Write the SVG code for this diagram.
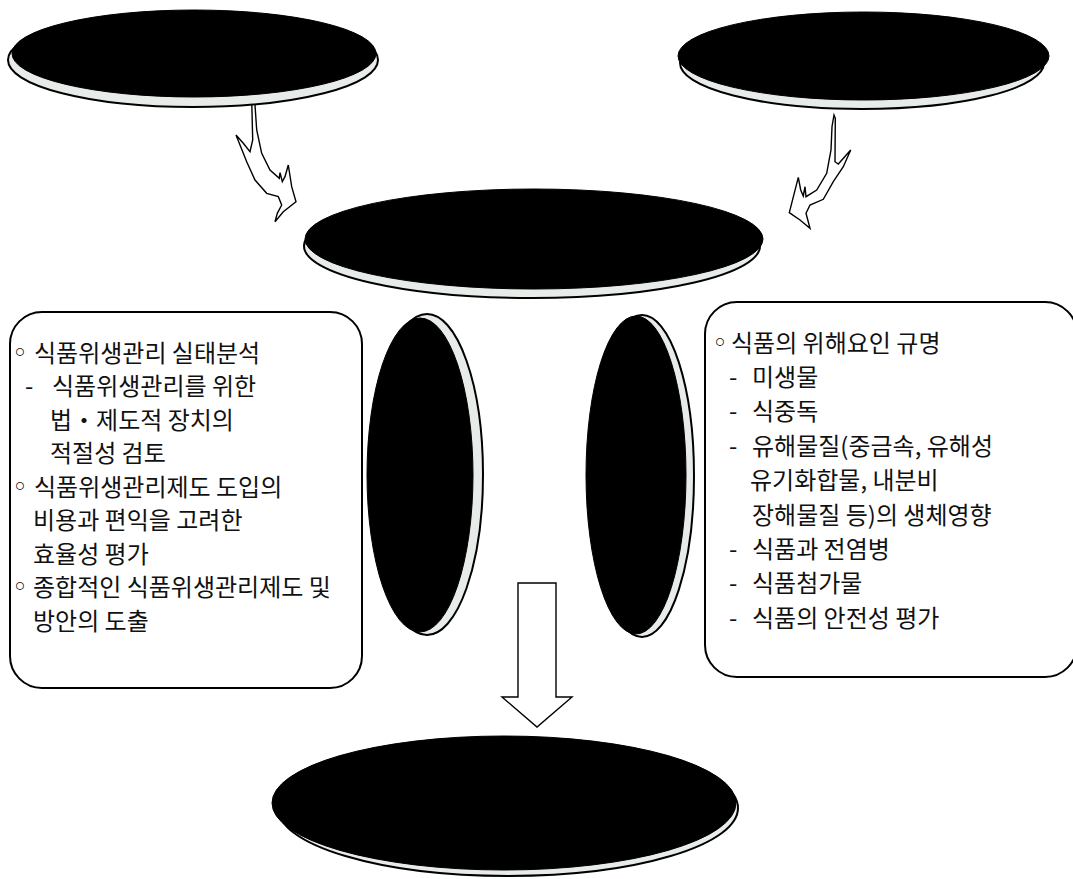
<svg xmlns="http://www.w3.org/2000/svg" width="1073" height="879" viewBox="0 0 1073 879">
<style>
.bg{fill:#ffffff}
.shadow{fill:#e8ece9;stroke:#000;stroke-width:2}
.blk{fill:#000;stroke:#000;stroke-width:1}
.box{fill:#fff;stroke:#000;stroke-width:2}
.arrow{fill:#fff;stroke:#000;stroke-width:1.4;stroke-linejoin:miter}
.t{font-family:"Noto Sans CJK KR","Noto Sans",sans-serif;font-size:24px;fill:#111}
.b{font-family:"DejaVu Sans",sans-serif;font-size:27px;fill:#111}
</style>
<rect class="bg" x="0" y="0" width="1073" height="879"/>

<g id="connectors">
  <polygon class="arrow" points="251.7,100 255,105 256.7,130 261.7,153.3 270,170 279.3,178.3 280,172.7 282.3,181.7 285,176.7 288.3,165 291.7,186.7 296,201.7 283.3,211.7 275,221.7 277.3,213.3 281.7,205 278.3,196.7 266.7,193.3 255,180 246.7,161.7 236,135 243.3,143.3 250,151.7 252.7,140"/>
  <polygon class="arrow" points="834,115 835.3,118.3 835,161.7 838.3,164 850.7,150 843.3,166.7 833.3,181.7 823.3,199.3 810,205 806,213.3 810,228.3 800,220 789.3,212.7 798.3,177.3 800.7,190 803.3,196 805,186.7 806,196.7 816.7,190 826.7,173.3 831,150 832,126.7"/>
  <polygon class="arrow" points="518,583 556,583 556,697 572,697 537,727 502,697 518,697"/>
</g>

<g id="node-top-left">
  <ellipse class="shadow" cx="193" cy="60" rx="185" ry="47"/>
  <ellipse class="blk" cx="194" cy="53.5" rx="182" ry="43.5"/>
</g>

<g id="node-top-right">
  <ellipse class="shadow" cx="862" cy="63" rx="182" ry="46"/>
  <ellipse class="blk" cx="863.5" cy="56" rx="185.5" ry="44"/>
</g>

<g id="node-center">
  <ellipse class="shadow" cx="532" cy="246" rx="228" ry="52"/>
  <ellipse class="blk" cx="534" cy="239" rx="229" ry="50"/>
</g>

<g id="node-left-oval">
  <ellipse class="shadow" cx="427" cy="474.5" rx="56" ry="160.5"/>
  <ellipse class="blk" cx="420" cy="475" rx="53" ry="157"/>
</g>

<g id="node-right-oval">
  <ellipse class="shadow" cx="642" cy="476" rx="52" ry="161"/>
  <ellipse class="blk" cx="636" cy="475" rx="50" ry="159"/>
</g>

<g id="node-bottom">
  <ellipse class="shadow" cx="508" cy="808" rx="230" ry="68"/>
  <ellipse class="blk" cx="504" cy="803" rx="232" ry="67"/>
</g>

<g id="node-left-box">
  <rect class="box" x="10" y="312" width="352" height="376" rx="32" ry="32"/>
  <text class="t" y="361.5"><tspan class="b" x="12">◦</tspan><tspan x="34">식품위생관리 실태분석</tspan></text>
  <text class="t" y="395"><tspan x="25">-</tspan><tspan x="52">식품위생관리를 위한</tspan></text>
  <text class="t" x="50" y="428.5">법・제도적 장치의</text>
  <text class="t" x="50" y="462">적절성 검토</text>
  <text class="t" y="495.5"><tspan class="b" x="12">◦</tspan><tspan x="34">식품위생관리제도 도입의</tspan></text>
  <text class="t" x="33" y="529">비용과 편익을 고려한</text>
  <text class="t" x="33" y="562.5">효율성 평가</text>
  <text class="t" y="596"><tspan class="b" x="12">◦</tspan><tspan x="33">종합적인 식품위생관리제도 및</tspan></text>
  <text class="t" x="33" y="629.5">방안의 도출</text>
</g>

<g id="node-right-box">
  <rect class="box" x="705" y="302" width="372" height="375" rx="32" ry="32"/>
  <text class="t" y="351.5"><tspan class="b" x="712">◦</tspan><tspan x="731">식품의 위해요인 규명</tspan></text>
  <text class="t" y="386"><tspan x="729">-</tspan><tspan x="752">미생물</tspan></text>
  <text class="t" y="420.3"><tspan x="729">-</tspan><tspan x="752">식중독</tspan></text>
  <text class="t" y="454.7"><tspan x="729">-</tspan><tspan x="752">유해물질(중금속, 유해성</tspan></text>
  <text class="t" x="750" y="489.1">유기화합물, 내분비</text>
  <text class="t" x="752" y="523.5">장해물질 등)의 생체영향</text>
  <text class="t" y="557.9"><tspan x="729">-</tspan><tspan x="752">식품과 전염병</tspan></text>
  <text class="t" y="592.3"><tspan x="729">-</tspan><tspan x="752">식품첨가물</tspan></text>
  <text class="t" y="626.7"><tspan x="729">-</tspan><tspan x="752">식품의 안전성 평가</tspan></text>
</g>
</svg>
